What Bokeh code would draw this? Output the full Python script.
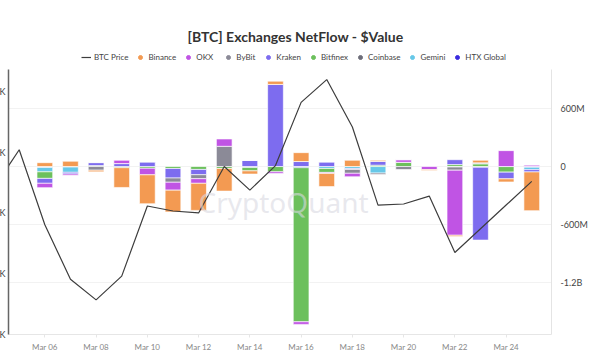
import numpy as np
import pandas as pd
from bokeh.plotting import figure
from bokeh.models import (ColumnDataSource, Range1d, LinearAxis, FixedTicker,
                          DatetimeTickFormatter, Legend, LegendItem, Label)
from bokeh.embed import file_html
from bokeh.resources import INLINE

# ---------------- data ----------------
bar_dates = pd.date_range("2025-03-06", "2025-03-25", freq="D")
price_dates = pd.date_range("2025-03-04", "2025-03-25", freq="D")

btc_price = [85630, 88160, 83220, 79640, 78280, 79840, 84460, 84130, 84000, 87060, 85500,
             87120, 91280, 92780, 89660, 84520, 84590, 85110, 81400, 82960, 84520, 86080]

# netflow in millions USD (Mar 06 .. Mar 25)
binance  = [40, 55, -17, -205, -300, -226, -281, -235, -33, 34, 92, -137, 65, 10, 0, -10, -14, 27, -32, -402]
okx      = [-45, -14, 0, 34, -68, -82, -48, 76, 0, -17, -27, -10, -36, 0, 27, -31, -675, 0, 165, 14]
bybit    = [0, 0, -38, 0, 0, -44, -41, 210, 0, 0, 0, 0, -40, -14, -31, 0, -33, 10, 0, 0]
kraken   = [-51, -17, 31, 31, 48, -99, -55, 0, 65, 852, 52, 48, -10, 41, 0, 0, 51, -755, -70, -24]
bitfinex = [-68, 0, 10, -12, -18, -20, -30, -20, -35, -55, -1599, -41, 0, 14, 44, 0, 20, 28, -58, 0]
coinbase = [0] * 20  # hidden series
gemini   = [-45, -55, 0, 0, 0, 0, 0, 0, 0, 0, 0, -20, -20, -68, 0, 0, 0, 0, 0, -25]
htx      = [-10, -5, 0, 0, 0, 0, 0, 0, -10, 0, -12, 0, 0, 0, 0, 0, -5, -8, 0, -7]

price_ticks = [76000, 80000, 84000, 88000, 92000]
price_tick_labels = ["76K", "80K", "84K", "88K", "92K"]
flow_ticks = [-1200000000, -600000000, 0, 600000000]
flow_tick_labels = ["-1.2B", "-600M", "0", "600M"]
xtick_dates = pd.date_range("2025-03-06", "2025-03-24", freq="2D")

legend_names = ["Binance", "OKX", "ByBit", "Kraken", "Bitfinex", "Coinbase", "Gemini", "HTX Global"]
colors = {"Binance": "#F39A52", "OKX": "#C054E4", "ByBit": "#8B8A97", "Kraken": "#7D6CEF",
          "Bitfinex": "#6CC05C", "Coinbase": "#6D6D79", "Gemini": "#67C8E8", "HTX Global": "#3A2BDF"}
values = {"Binance": binance, "OKX": okx, "ByBit": bybit, "Kraken": kraken, "Bitfinex": bitfinex,
          "Coinbase": coinbase, "Gemini": gemini, "HTX Global": htx}

# ---------------- figure ----------------
day = pd.Timedelta(days=1)
x0 = pd.Timestamp("2025-03-06") - 1.418 * day
x1 = pd.Timestamp("2025-03-06") + 19.77 * day

flow_lo, flow_hi, flow_top = -1743e6, 1005e6, 1723e6
price_lo, price_hi, price_top = 76000, 93430, 97985

p = figure(width=622, height=354, output_backend="svg", toolbar_location=None,
           x_axis_type="datetime", y_axis_location="right", title_location=None,
           x_range=Range1d(x0, x1), y_range=Range1d(flow_lo, flow_top),
           min_border_left=40, min_border_right=29, min_border_top=0, min_border_bottom=16)
p.margin = (0, 0, 0, -32)
p.outline_line_color = None
p.background_fill_color = "white"
p.border_fill_color = "white"

p.extra_y_ranges = {"price": Range1d(price_lo, price_top)}

p.xgrid.visible = False
p.ygrid.grid_line_color = "#f2f2f2"
p.ygrid.ticker = FixedTicker(ticks=flow_ticks)

ra = p.yaxis[0]
ra.ticker = FixedTicker(ticks=flow_ticks)
ra.bounds = (flow_lo, flow_hi)
ra.major_label_overrides = {t: l for t, l in zip(flow_ticks, flow_tick_labels)}
ra.major_tick_line_color = None
ra.minor_tick_line_color = None
ra.axis_line_color = "#e4e4e4"
ra.major_label_text_font = "Lato"
ra.major_label_text_font_size = "9px"
ra.major_label_text_color = "#444444"
ra.major_label_standoff = 3

la = LinearAxis(y_range_name="price", ticker=FixedTicker(ticks=price_ticks))
la.bounds = (price_lo, price_hi)
la.major_label_overrides = {t: l for t, l in zip(price_ticks, price_tick_labels)}
la.major_tick_line_color = None
la.minor_tick_line_color = None
la.major_tick_out = 0
la.major_tick_in = 0
la.minor_tick_out = 0
la.axis_line_color = "#666666"
la.axis_line_width = 1.5
la.major_label_text_font = "Lato"
la.major_label_text_font_size = "9px"
la.major_label_text_color = "#444444"
la.major_label_standoff = 3
p.add_layout(la, "left")

xa = p.xaxis[0]
xa.ticker = FixedTicker(ticks=[int(d.value // 10**6) for d in xtick_dates])
xa.formatter = DatetimeTickFormatter(days="%b %d", months="%b %d")
xa.axis_line_color = "#e6e6e6"
xa.major_tick_line_color = "#e6e6e6"
xa.major_tick_out = 3
xa.major_tick_in = 0
xa.minor_tick_line_color = None
xa.major_label_text_font = "Lato"
xa.major_label_text_font_size = "8px"
xa.major_label_text_color = "#888888"
xa.major_label_standoff = 4

p.add_layout(Label(x=275, y=133, x_units="screen", y_units="screen", text="CryptoQuant",
                   text_font="Noto Sans", text_font_size="28px", text_color="#d9d9e2",
                   text_alpha=0.6, text_align="center", text_baseline="middle"))

p.add_layout(Label(x=287, y=298, x_units="screen", y_units="screen",
                   text="[BTC] Exchanges NetFlow - $Value", text_font="Lato",
                   text_font_size="14px", text_font_style="bold", text_color="#333333",
                   text_align="center", text_baseline="middle"))

# ---------------- stacked bars ----------------
n = len(bar_dates)
pos_base = np.zeros(n)
neg_base = np.zeros(n)
bar_width = 0.613 * 86400000
stack_order = ["HTX Global", "Gemini", "Coinbase", "Bitfinex", "Kraken", "ByBit", "OKX", "Binance"]
bar_renderers = {}
for name in stack_order:
    v = np.array(values[name], dtype=float) * 1e6
    top = np.where(v >= 0, pos_base + v, neg_base)
    bottom = np.where(v >= 0, pos_base, neg_base + v)
    pos_base = pos_base + np.where(v > 0, v, 0)
    neg_base = neg_base + np.where(v < 0, v, 0)
    src = ColumnDataSource(dict(x=bar_dates, top=top, bottom=bottom))
    r = p.vbar(x="x", width=bar_width, top="top", bottom="bottom", source=src,
               fill_color=colors[name], line_color="white", line_width=0.7, line_alpha=0.9)
    if name == "Coinbase":
        r.visible = False
    bar_renderers[name] = r

line_src = ColumnDataSource(dict(x=price_dates, y=btc_price))
line_r = p.line(x="x", y="y", source=line_src, y_range_name="price",
                line_color="#3d3d3d", line_width=1.2)

# ---------------- legend ----------------
items = [LegendItem(label="BTC Price", renderers=[line_r])]
for name in legend_names:
    dsrc = ColumnDataSource(dict(x=[bar_dates[0]], y=[np.nan]))
    dot = p.scatter(x="x", y="y", source=dsrc, marker="circle", size=8,
                    fill_color=colors[name], line_color=colors[name])
    if name == "Coinbase":
        dot.visible = False
    items.append(LegendItem(label=name, renderers=[dot]))

legend = Legend(items=items, orientation="horizontal", location=(73, 271),
                label_text_font="Lato", label_text_font_size="8px", label_text_color="#444444",
                glyph_width=10, glyph_height=10, label_height=12, label_standoff=3,
                spacing=7, padding=2, margin=0, border_line_color=None,
                background_fill_alpha=0, inactive_fill_alpha=0.55)
p.add_layout(legend, "center")

open("out.html", "w").write(file_html(p, INLINE))
